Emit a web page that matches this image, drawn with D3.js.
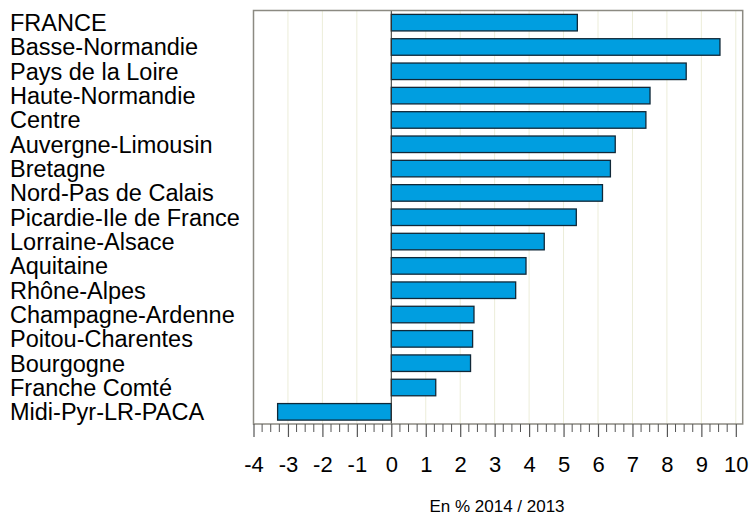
<!DOCTYPE html>
<html>
<head>
<meta charset="utf-8">
<script src="https://cdn.jsdelivr.net/npm/d3@7"></script>
<style>
  body { margin: 0; background: #fff; }
  text { font-family: "Liberation Sans", Arial, sans-serif; fill: #000; }
</style>
</head>
<body>
<div id="chart-container"></div>
<script>
// regions and their change, in % 2014 / 2013
const regions = ["FRANCE", "Basse-Normandie", "Pays de la Loire", "Haute-Normandie", "Centre",
  "Auvergne-Limousin", "Bretagne", "Nord-Pas de Calais", "Picardie-Ile de France",
  "Lorraine-Alsace", "Aquitaine", "Rhône-Alpes", "Champagne-Ardenne", "Poitou-Charentes",
  "Bourgogne", "Franche Comté", "Midi-Pyr-LR-PACA"];
const values = [5.40, 9.54, 8.56, 7.51, 7.39, 6.50, 6.36, 6.13, 5.37, 4.44, 3.91, 3.61,
  2.40, 2.36, 2.30, 1.29, -3.30];
const tickValues = [-4, -3, -2, -1, 0, 1, 2, 3, 4, 5, 6, 7, 8, 9, 10];
const xTitle = "En % 2014 / 2013";

const svgWidth = 750;
const svgHeight = 517;
const panel = { left: 253.5, right: 742.7, top: 10.5, bottom: 424 };

const svg = d3.select("#chart-container")
    .append("svg")
    .attr("width", svgWidth)
    .attr("height", svgHeight);

const x = d3.scaleLinear()
    .domain([-4, 10.2])
    .range([panel.left, panel.right]);

const y = d3.scaleBand()
    .domain(regions)
    .range([panel.top, panel.bottom])
    .paddingInner(0.32)
    .paddingOuter(0.16);

// grid lines
svg.append("g")
    .selectAll("line")
    .data(tickValues)
    .enter()
    .append("line")
    .attr("x1", d => x(d)).attr("x2", d => x(d))
    .attr("y1", panel.top).attr("y2", panel.bottom)
    .attr("stroke", "#ecedd9")
    .attr("stroke-width", 1);

// bars
svg.append("g")
    .selectAll("rect")
    .data(values)
    .enter()
    .append("rect")
    .attr("x", d => x(Math.min(0, d)))
    .attr("y", (d, i) => y(regions[i]))
    .attr("width", d => Math.abs(x(d) - x(0)))
    .attr("height", y.bandwidth())
    .attr("fill", "#009ee0")
    .attr("stroke", "#102838")
    .attr("stroke-width", 1.3);

// zero line
svg.append("line")
    .attr("x1", x(0)).attr("x2", x(0))
    .attr("y1", panel.top).attr("y2", panel.bottom)
    .attr("stroke", "#333")
    .attr("stroke-width", 1);

// panel border
svg.append("rect")
    .attr("x", panel.left).attr("y", panel.top)
    .attr("width", panel.right - panel.left)
    .attr("height", panel.bottom - panel.top)
    .attr("fill", "none")
    .attr("stroke", "#8c8a82")
    .attr("stroke-width", 1.5);

// axis: minor ticks every 0.25, major ticks at integers
const minor = d3.range(-4, 10.01, 0.25).filter(v => Math.abs(v - Math.round(v)) > 0.01);
svg.append("g")
    .selectAll("line")
    .data(minor)
    .enter()
    .append("line")
    .attr("x1", d => x(d)).attr("x2", d => x(d))
    .attr("y1", panel.bottom).attr("y2", panel.bottom + 8)
    .attr("stroke", "#555")
    .attr("stroke-width", 1);

const xAxis = svg.append("g")
    .attr("transform", `translate(0, ${panel.bottom})`)
    .call(d3.axisBottom(x).tickValues(tickValues).tickSize(13).tickPadding(19).tickFormat(d3.format("d")));
xAxis.select(".domain").remove();
xAxis.selectAll(".tick line").attr("stroke", "#555").attr("stroke-width", 1.2);
xAxis.selectAll(".tick text")
    .attr("font-family", "Liberation Sans, Arial, sans-serif")
    .attr("font-size", 22)
    .attr("fill", "#000")
    .text(d => d < 0 ? "-" + Math.abs(d) : d);

// category labels
svg.append("g")
    .selectAll("text")
    .data(regions)
    .enter()
    .append("text")
    .attr("x", 10)
    .attr("y", d => y(d) + y.bandwidth() / 2 + 8.5)
    .attr("font-size", 23.5)
    .text(d => d);

svg.append("text")
    .attr("x", 497)
    .attr("y", 512)
    .attr("text-anchor", "middle")
    .attr("font-size", 17)
    .text(xTitle);
</script>
</body>
</html>
